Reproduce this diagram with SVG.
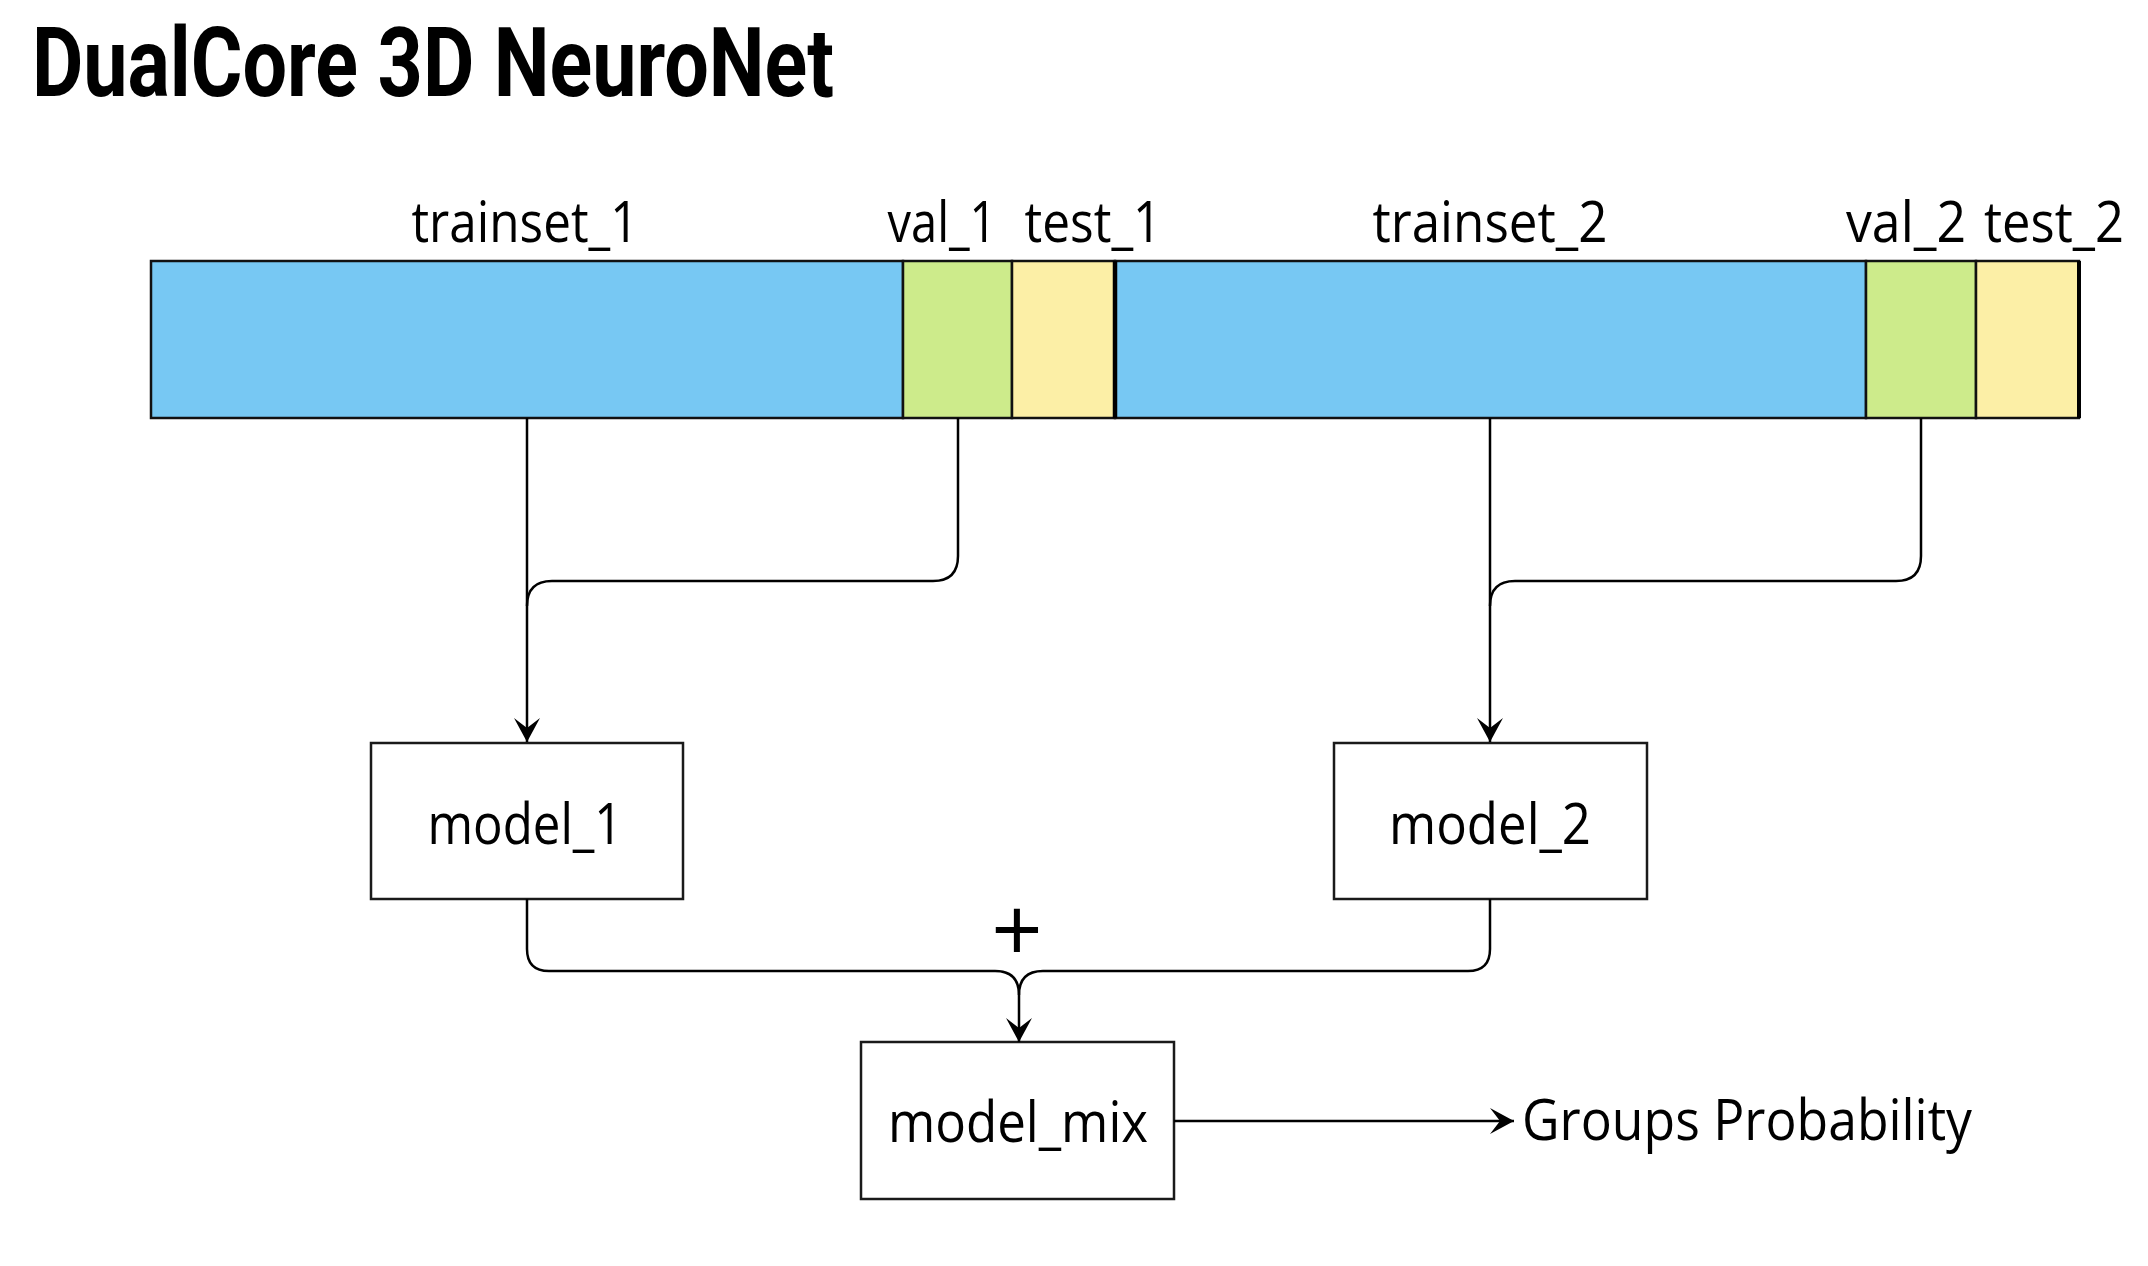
<svg xmlns="http://www.w3.org/2000/svg" width="2148" height="1266" viewBox="0 0 2148 1266">
<style>
.lbl{font-family:"Open Sans","Noto Sans","Liberation Sans",sans-serif;font-size:56px;fill:#000}
.box{fill:#fff;stroke:#1a1a1a;stroke-width:2.5}
.seg{stroke:#111;stroke-width:2.5}
.con{fill:none;stroke:#000;stroke-width:2.5}
.title{font-family:"Roboto","Liberation Sans",sans-serif;font-weight:bold;font-size:96px;fill:#000}
</style>
<defs>
<marker id="arr" viewBox="-25 -15 27 30" refX="0" refY="0" markerUnits="userSpaceOnUse" markerWidth="27" markerHeight="30" orient="auto">
<path d="M0 0 L-24 -13 L-14 0 L-24 13 Z" fill="#000"/>
</marker>
</defs>
<rect width="2148" height="1266" fill="#fff"/>
<text class="title" x="32" y="96" textLength="802" lengthAdjust="spacingAndGlyphs">DualCore 3D NeuroNet</text>

<g id="dataset_1">
<rect id="trainset_1" class="seg" x="151" y="261" width="752" height="157" fill="#77C8F3"/>
<rect id="val_1" class="seg" x="903" y="261" width="109" height="157" fill="#CDEB8B"/>
<rect id="test_1" class="seg" x="1012" y="261" width="103" height="157" fill="#FCEFA6"/>
<text class="lbl" x="525" y="242" text-anchor="middle" textLength="227" lengthAdjust="spacingAndGlyphs">trainset_1</text>
<text class="lbl" x="942" y="242" text-anchor="middle" textLength="109" lengthAdjust="spacingAndGlyphs">val_1</text>
<text class="lbl" x="1093" y="242" text-anchor="middle" textLength="137" lengthAdjust="spacingAndGlyphs">test_1</text>
</g>
<g id="dataset_2">
<rect id="trainset_2" class="seg" x="1115" y="261" width="751" height="157" fill="#77C8F3"/>
<rect id="val_2" class="seg" x="1866" y="261" width="110" height="157" fill="#CDEB8B"/>
<rect id="test_2" class="seg" x="1976" y="261" width="103" height="157" fill="#FCEFA6"/>
<line x1="1115" y1="261" x2="1115" y2="418" stroke="#000" stroke-width="4.5"/>
<line x1="2079" y1="261" x2="2079" y2="418" stroke="#000" stroke-width="4"/>
<text class="lbl" x="1490" y="242" text-anchor="middle" textLength="235" lengthAdjust="spacingAndGlyphs">trainset_2</text>
<text class="lbl" x="1906" y="242" text-anchor="middle" textLength="120" lengthAdjust="spacingAndGlyphs">val_2</text>
<text class="lbl" x="2054" y="242" text-anchor="middle" textLength="140" lengthAdjust="spacingAndGlyphs">test_2</text>
</g>

<g id="model_1">
<rect class="box" x="371" y="743" width="312" height="156"/>
<text class="lbl" x="525" y="844" text-anchor="middle" textLength="195" lengthAdjust="spacingAndGlyphs">model_1</text>
</g>
<g id="model_2">
<rect class="box" x="1334" y="743" width="313" height="156"/>
<text class="lbl" x="1490" y="844" text-anchor="middle" textLength="202" lengthAdjust="spacingAndGlyphs">model_2</text>
</g>
<g id="model_mix">
<rect class="box" x="861" y="1042" width="313" height="157"/>
<text class="lbl" x="1018" y="1142" text-anchor="middle" textLength="260" lengthAdjust="spacingAndGlyphs">model_mix</text>
</g>
<g id="output">
<text class="lbl" x="1522" y="1140" textLength="450" lengthAdjust="spacingAndGlyphs">Groups Probability</text>
</g>

<g id="connectors">
<path class="con" d="M527 418 V742" marker-end="url(#arr)"/>
<path class="con" d="M958 418 V556 Q958 581 933 581 H552 Q527 581 527 606"/>
<path class="con" d="M1490 418 V742" marker-end="url(#arr)"/>
<path class="con" d="M1921 418 V556 Q1921 581 1896 581 H1515 Q1490 581 1490 606"/>
<path class="con" d="M527 899 V949 Q527 971 549 971 H995 Q1019 971 1019 995 V1042" marker-end="url(#arr)"/>
<path class="con" d="M1490 899 V949 Q1490 971 1468 971 H1043 Q1019 971 1019 995"/>
<path class="con" d="M1174 1121 H1514" marker-end="url(#arr)"/>
<text class="lbl" x="1017" y="962" text-anchor="middle" style="font-size:90px">+</text>
</g>
</svg>
